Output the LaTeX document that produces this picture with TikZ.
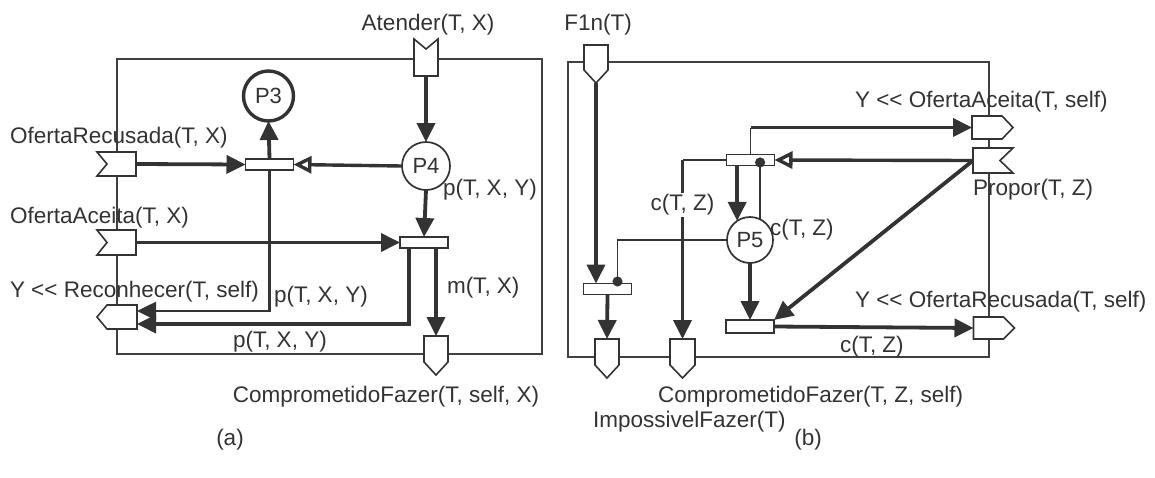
\documentclass[tikz,border=0pt]{standalone}
\usepackage{fontspec}
\setmainfont{Liberation Sans}
\usetikzlibrary{arrows.meta,calc}
\newcommand{\pnotchW}[1]{\draw[portline] (#1.north west) -- (#1.north east) -- (#1.south east) -- (#1.south west) -- ($(#1.west)+(10,0)$) -- cycle;}
\newcommand{\pnotchE}[1]{\draw[portline] (#1.north west) -- (#1.north east) -- ($(#1.east)+(-13,0)$) -- (#1.south east) -- (#1.south west) -- cycle;}
\newcommand{\pnotchN}[1]{\draw[portline] (#1.north west) -- ($(#1.north)+(0,10)$) -- (#1.north east) -- (#1.south east) -- (#1.south west) -- cycle;}
\newcommand{\ppointW}[1]{\draw[portline] ($(#1.north west)+(10,0)$) -- (#1.north east) -- (#1.south east) -- ($(#1.south west)+(10,0)$) -- (#1.west) -- cycle;}
\newcommand{\ppointE}[1]{\draw[portline] (#1.north west) -- ($(#1.north east)+(-11,0)$) -- (#1.east) -- ($(#1.south east)+(-11,0)$) -- (#1.south west) -- cycle;}
\newcommand{\ppointS}[1]{\draw[portline] (#1.north west) -- (#1.north east) -- ($(#1.south east)+(0,-13)$) -- (#1.south) -- ($(#1.south west)+(0,-13)$) -- cycle;}
\begin{document}
\begin{tikzpicture}[x=1pt,y=-1pt,
  every node/.style={inner sep=0pt, outer sep=0pt},
  frameline/.style={draw=black!75, line width=1.5pt},
  portline/.style={draw=black!80, fill=white, line width=1.6pt, line join=miter},
  pbox/.style 2 args={rectangle, minimum width=#1, minimum height=#2},
  trans/.style={rectangle, draw=black!80, fill=white, line width=1.7pt, minimum width=48pt, minimum height=11pt},
  place/.style={circle, draw=black!80, fill=white, line width=1.7pt, minimum size=47pt, text=black!80, font=\fontsize{22}{26}\selectfont},
  lbl/.style={text=black!80, font=\fontsize{22.5}{26}\selectfont},
  arc/.style={draw=black!80, line width=3.8pt, -{Triangle[length=19pt,width=18pt]}},
  arcm/.style={draw=black!80, line width=2.6pt, -{Triangle[length=19pt,width=18pt]}},
  oarc/.style={draw=black!80, line width=3.4pt, -{Triangle[open,length=18pt,width=17pt]}},
  thinline/.style={draw=black!80, line width=1.6pt}]
\useasboundingbox (0,0) rectangle (1155,477);
\fill[white] (0,0) rectangle (1155,477);
% frames
\draw[frameline] (117,59) rectangle (542,354);
\draw[frameline] (568,62) rectangle (989,357);
% ---------------- (a) ----------------
\node[pbox={24}{37}] (ar) at (426,57.5) {};
\node[pbox={39}{24}] (or) at (116.5,164) {};
\node[pbox={39}{25}] (oa) at (116.5,242.5) {};
\node[pbox={40}{24}] (rec) at (117,317) {};
\node[pbox={24}{39}] (cfa) at (436,355.5) {};
\pnotchN{ar}
\pnotchW{or}
\pnotchW{oa}
\ppointW{rec}
\ppointS{cfa}
\node[trans] (t1) at (269.5,164.5) {};
\node[trans] (t2) at (424,242.5) {};
\node[place, line width=3.4pt, minimum size=50pt] (p3) at (268.5,96) {P3};
\node[place, minimum size=48pt] (p4) at (426,166) {P4};
\coordinate (recA) at ($(rec.east)+(0,-6)$);
\coordinate (recB) at ($(rec.east)+(0,7)$);
\draw[arc] (ar.south) -- (p4.north);
\draw[arc] (p4.south) -- (t2.north);
\draw[oarc] (p4.west) -- (t1.east);
\draw[arc] (or.east) -- (t1.west);
\draw[arc] (t1.north) -- (p3.south);
\draw[arc] (oa.east) -- (t2.west);
\draw[arcm] (t1.south) |- (recA);
\draw[arc] ($(t2.south west)+(9,0)$) |- (recB);
\draw[arc] (t2.south -| cfa.north) -- (cfa.north);
\node[lbl] (lat) at (428,25) {Atender(T, X)};
\node[lbl, anchor=west] (lor) at (10,138) {OfertaRecusada(T, X)};
\node[lbl, anchor=west] (loa) at (10,218) {OfertaAceita(T, X)};
\node[lbl, anchor=west] (lrec) at (10,292) {Y <\kern0pt< Reconhecer(T, self)};
\node[lbl, anchor=west] (lp1) at (443,190) {p(T, X, Y)};
\node[lbl, anchor=west] (lp2) at (274,297) {p(T, X, Y)};
\node[lbl, anchor=west] (lp3) at (233,342) {p(T, X, Y)};
\node[lbl, anchor=west] (lm) at (447,288) {m(T, X)};
\node[lbl] (lcfa) at (386,397) {ComprometidoFazer(T, self, X)};
\node[lbl] (la) at (230,440) {(a)};
% ---------------- (b) ----------------
\node[pbox={24}{38}] (f1n) at (596,64) {};
\node[pbox={24}{39}] (if) at (607,358.5) {};
\node[pbox={25}{39}] (cfb) at (682.5,358.5) {};
\node[pbox={41}{23}] (oab) at (992.5,127.5) {};
\node[pbox={40}{25}] (pr) at (993,160.5) {};
\node[pbox={41}{22}] (orb) at (994,328) {};
\ppointS{f1n}
\ppointS{if}
\ppointS{cfb}
\ppointE{oab}
\pnotchE{pr}
\ppointE{orb}
\node[trans] (t3) at (607.5,289) {};
\node[trans] (t4) at (750.5,160) {};
\node[trans, minimum height=13pt] (t5) at (750,326.5) {};
\node[place, minimum size=46pt] (p5) at (750,240) {P5};
\draw[arc] (f1n.south) -- (f1n.south |- t3.north);
\draw[thinline, -{Circle[length=10pt]}, shorten >=-3pt] (p5.west) -| ($(t3.north east)+(-14,0)$);
\draw[arcm, -{Circle[length=10pt]}, shorten >=-8pt] (p5.64) -- (p5.64 |- t4.south);
\draw[arc] (t4.south -| p5.124) -- (p5.124);
\draw[thinline] (t4.north) -- (t4.north |- oab.west) coordinate (tk);
\draw[arc] (tk) -- (oab.west);
\draw[oarc] (pr.west) -- (t4.east);
\draw[arc] (pr.west) -- (t5.north east);
\draw[arc] (p5.south) -- (t5.north);
\draw[arc] (t5.east) -- (orb.west);
\draw[thinline] (t4.west) -- (t4.west -| cfb.north) coordinate (cc);
\draw[arc] (cc) -- (cfb.north);
\draw[arc] (t3.south) -- (if.north);
\node[lbl] (lf1n) at (598,25) {F1n(T)};
\node[lbl, anchor=west] (loab) at (855,102) {Y <\kern0pt< OfertaAceita(T, self)};
\node[lbl, anchor=west] (lpr) at (973,190) {Propor(T, Z)};
\node[lbl, fill=white, inner sep=2pt] (lc1) at (682.5,205) {c(T, Z)};
\node[lbl, anchor=west] (lc2) at (770,230) {c(T, Z)};
\node[lbl, anchor=west] (lorb) at (855,302) {Y <\kern0pt< OfertaRecusada(T, self)};
\node[lbl, anchor=west] (lc3) at (840,347) {c(T, Z)};
\node[lbl, anchor=west] (lcfb) at (658,397) {ComprometidoFazer(T, Z, self)};
\node[lbl, anchor=west] (lif) at (593,422) {ImpossivelFazer(T)};
\node[lbl] (lb) at (808,440) {(b)};
\end{tikzpicture}
\end{document}
